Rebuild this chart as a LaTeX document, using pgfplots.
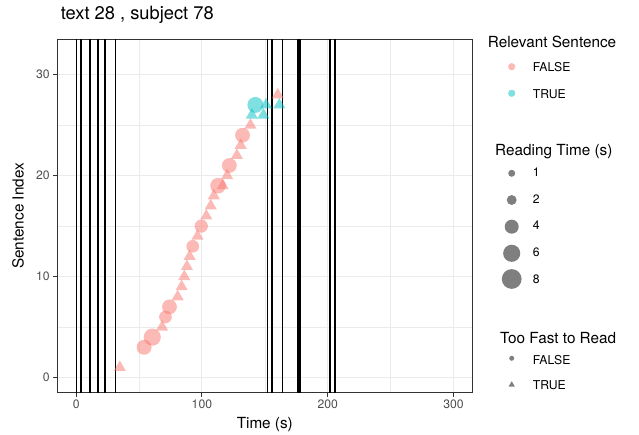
\documentclass[border=0pt]{standalone}
\usepackage{pgfplots}
\usepackage{pgfplotstable}
\pgfplotsset{compat=1.18}
\usepackage{fontspec}
\setmainfont{TeX Gyre Heros}

\definecolor{rsfalse}{HTML}{F8766D}
\definecolor{rstrue}{HTML}{00BFC4}
\definecolor{grid92}{HTML}{EBEBEB}
\definecolor{gray20}{HTML}{333333}
\definecolor{gray30}{HTML}{4D4D4D}

\newcommand\ticksz{\fontsize{12.2}{14}\selectfont}
\newcommand\labsz{\fontsize{15.3}{18}\selectfont}

% fixations read slowly enough (circles): time, sentence index, reading time (s)
\pgfplotstableread{
x y rt
54.0 3 4.6
60.5 4 6.0
71.0 6 3.3
74.2 7 4.5
92.7 13 3.3
99.5 15 3.6
112.8 19 5.0
121.8 21 4.5
132.3 24 4.5
}\slowfalse
\pgfplotstableread{
x y rt
142.5 27 5.2
}\slowtrue
% fixations that were too fast (triangles)
\pgfplotstableread{
x y
34.7 1
68.3 5
80.7 8
83.9 9
86.0 10
88.1 11
90.2 12
96.5 14
103.5 16
107.0 17
109.5 18
116.5 19
120.0 20
127.8 22
130.8 23
138.6 25
160.3 28
}\fastfalse
\pgfplotstableread{
x y
139.7 26
148.9 26
151.0 27
161.6 27
}\fasttrue
% size legend keys (placed in picture units)
\pgfplotstableread{
x y rt
511.7 261.7 1
511.7 235.0 2
511.7 208.3 4
511.7 181.7 6
511.7 156.0 8
}\sizekeys

\pgfplotsset{
  rtscatter/.style={
    scatter, only marks, mark=*,
    point meta=\thisrow{rt},
    scatter/use mapped color={draw opacity=0, fill=#1, fill opacity=0.5},
    visualization depends on={3.5*sqrt(\thisrow{rt}) \as \perpointmarksize},
    scatter/@pre marker code/.append style={/tikz/mark size=\perpointmarksize},
  },
  fastmark/.style 2 args={
    scatter, only marks, mark=triangle*,
    scatter/use mapped color={draw opacity=0, fill=#1, fill opacity=0.5},
    scatter/@pre marker code/.append style={/tikz/mark size=#2},
  },
}

\begin{document}
\begin{tikzpicture}
\useasboundingbox (0,0) rectangle (639pt,435pt);

\begin{axis}[
    at={(57.3pt,42.3pt)}, anchor=south west,
    scale only axis, width=415pt, height=353.4pt,
    xmin=-15, xmax=315, ymin=-1.5, ymax=33.5,
    xtick={0,100,200,300}, minor xtick={50,150,250},
    ytick={0,10,20,30}, minor ytick={5,15,25},
    grid=both,
    major grid style={grid92, line width=1.1pt},
    minor grid style={grid92, line width=0.55pt},
    axis line style={gray20, line width=1pt},
    tick pos=left, tick align=outside,
    major tick length=4pt, minor tick length=0pt,
    every tick/.style={gray20, line width=1pt},
    tick label style={font=\ticksz, text=gray30},
    /pgf/number format/assume math mode=true,
    title={text 28 , subject 78},
    title style={at={(axis description cs:0,1)}, anchor=base west, yshift=13.6pt,
                 font=\fontsize{18.3}{21}\selectfont},
    xlabel={Time (s)},
    xlabel style={at={(axis description cs:0.5,-0.0914)}, anchor=center, font=\labsz},
    ylabel={Sentence Index},
    ylabel style={at={(axis description cs:-0.0947,0.5)}, anchor=center, font=\labsz},
]
\addplot[fastmark={rsfalse}{7pt}] table {\fastfalse};
\addplot[rtscatter=rsfalse] table {\slowfalse};
\addplot[fastmark={rstrue}{7pt}] table {\fasttrue};
\addplot[rtscatter=rstrue] table {\slowtrue};

% sentence boundaries / events
\pgfplotsinvokeforeach{0.2,4.0,10.9,17.5,23.0,31.4,152.1,155.6,164.0,176.2,177.8,201.8,205.8}{
  \addplot[black, line width=1.6pt, forget plot] coordinates {(#1,-5) (#1,40)};
}
\end{axis}

% legends
\begin{axis}[
    at={(0pt,0pt)}, anchor=south west,
    scale only axis, width=639pt, height=435pt,
    xmin=0, xmax=639, ymin=0, ymax=435,
    hide axis, clip=false,
]
\node[anchor=base west, font=\labsz] at (axis cs:484.3,387.3) {Relevant Sentence};
\addplot[only marks, mark=*,
         mark options={mark size=3.6pt, fill=rsfalse, fill opacity=0.5, draw opacity=0}] coordinates {(511.7,368.3)};
\addplot[only marks, mark=*,
         mark options={mark size=3.6pt, fill=rstrue, fill opacity=0.5, draw opacity=0}] coordinates {(511.7,341.7)};
\node[anchor=base west, font=\ticksz] at (axis cs:529.3,363.3) {FALSE};
\node[anchor=base west, font=\ticksz] at (axis cs:529.3,336.7) {TRUE};

\node[anchor=base west, font=\labsz] at (axis cs:491.7,279.3) {Reading Time (s)};
\addplot[rtscatter=black] table {\sizekeys};
\node[anchor=base west, font=\ticksz] at (axis cs:529.3,258.3) {1};
\node[anchor=base west, font=\ticksz] at (axis cs:529.3,231.7) {2};
\node[anchor=base west, font=\ticksz] at (axis cs:529.3,205.0) {4};
\node[anchor=base west, font=\ticksz] at (axis cs:529.3,178.3) {6};
\node[anchor=base west, font=\ticksz] at (axis cs:529.3,151.7) {8};

\node[anchor=base west, font=\labsz] at (axis cs:496.7,91.7) {Too Fast to Read};
\addplot[only marks, mark=*,
         mark options={mark size=2.5pt, fill=black, fill opacity=0.5, draw opacity=0}] coordinates {(511.7,76.7)};
\addplot[fastmark={black}{3.6pt}] coordinates {(511.7,50.2)};
\node[anchor=base west, font=\ticksz] at (axis cs:529.3,70.7) {FALSE};
\node[anchor=base west, font=\ticksz] at (axis cs:529.3,45.0) {TRUE};
\end{axis}
\end{tikzpicture}
\end{document}
